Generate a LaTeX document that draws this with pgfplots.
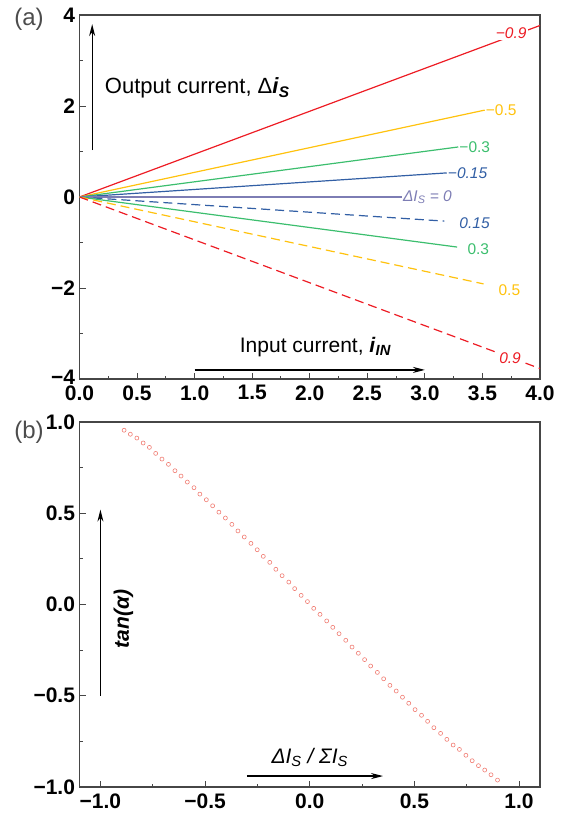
\documentclass[border=0pt]{standalone}
\usepackage{fontspec}
\setmainfont{Liberation Sans}
\usepackage{pgfplots}
\pgfplotsset{compat=1.18}
\usetikzlibrary{arrows.meta}
\definecolor{cred}{RGB}{237,28,36}
\definecolor{cyel}{RGB}{255,194,14}
\definecolor{cgrn}{RGB}{60,190,110}
\definecolor{cblu}{RGB}{50,95,165}
\definecolor{cpur}{RGB}{125,125,180}
\definecolor{cpt}{RGB}{240,125,115}
\definecolor{axgray}{RGB}{70,70,70}
\newcommand{\lbl}{\fontsize{15.5}{15.5}\selectfont}
\pgfplotsset{
  myax/.style={
    scale only axis, width=460.5pt,
    tick align=inside, xtick pos=left, ytick pos=left,
    major tick length=6pt, minor tick length=3.5pt,
    tick style={axgray, line width=1pt},
    axis line style={axgray, line width=1.2pt},
    tick label style={font=\bfseries\fontsize{21}{21}\selectfont},
    xticklabel style={yshift=-3pt},
    yticklabel style={xshift=-1pt},
    minor x tick num=1, minor y tick num=1,
    clip=false,
  }
}
\begin{document}
\begin{tikzpicture}
\path[use as bounding box] (0pt,0pt) rectangle (576pt,-819pt);
\node[font=\fontsize{24}{24}\selectfont, text=black!70] at (29pt,-19pt) {(a)};
\node[font=\fontsize{24}{24}\selectfont, text=black!70] at (29pt,-432pt) {(b)};
% ---------- top axis ----------
\begin{axis}[myax, at={(79.5pt,-379pt)}, anchor=south west, height=364pt,
  xmin=0, xmax=4, ymin=-4, ymax=4,
  xtick={0,0.5,1,1.5,2,2.5,3,3.5,4},
  xticklabels={0.0,0.5,1.0,1.5,2.0,2.5,3.0,3.5,4.0},
  ytick={-4,-2,0,2,4}, yticklabels={\smash{\raisebox{-5pt}{−4}},−2,0,2,4}]
\addplot[cred, line width=1.2pt] coordinates {(0,0) (4,3.77)};
\addplot[cyel, line width=1.2pt] coordinates {(0,0) (3.52,1.91)};
\addplot[cgrn, line width=1.2pt] coordinates {(0,0) (3.29,1.10)};
\addplot[cblu, line width=1.2pt] coordinates {(0,0) (3.19,0.53)};
\addplot[cpur, line width=1.2pt] coordinates {(0,0) (2.80,0)};
\addplot[cblu, line width=1.2pt, dash pattern=on 9pt off 5pt] coordinates {(0,0) (3.17,-0.53)};
\addplot[cgrn, line width=1.2pt] coordinates {(0,0) (3.28,-1.10)};
\addplot[cyel, line width=1.2pt, dash pattern=on 9pt off 5pt] coordinates {(0,0) (3.51,-1.91)};
\addplot[cred, line width=1.2pt, dash pattern=on 9pt off 5pt] coordinates {(0,0) (4,-3.77)};
\node[fill=white, inner sep=1pt, text=cred, font=\lbl\itshape] at (axis cs:3.75,3.60) {−0.9};
\node[anchor=west, inner sep=1pt, text=cyel, font=\lbl] at (axis cs:3.52,1.91) {−0.5};
\node[anchor=west, inner sep=1pt, text=cgrn, font=\lbl] at (axis cs:3.29,1.10) {−0.3};
\node[anchor=west, inner sep=1pt, text=cblu, font=\lbl\itshape] at (axis cs:3.19,0.53) {−0.15};
\node[anchor=west, inner sep=1pt, text=cpur, font=\lbl\itshape] at (axis cs:2.80,0) {ΔI\textsubscript{S} = 0};
\node[anchor=west, inner sep=1pt, text=cblu, font=\lbl\itshape] at (axis cs:3.29,-0.58) {0.15};
\node[anchor=west, inner sep=1pt, text=cgrn, font=\lbl] at (axis cs:3.36,-1.14) {0.3};
\node[anchor=west, inner sep=1pt, text=cyel, font=\lbl] at (axis cs:3.63,-2.05) {0.5};
\node[fill=white, inner sep=1pt, text=cred, font=\lbl\itshape] at (axis cs:3.74,-3.54) {0.9};
\draw[black, line width=1.3pt, -{Stealth[length=12pt,width=6pt]}] (axis cs:0.11,1.03) -- (axis cs:0.11,3.80);
\node[anchor=west, font=\fontsize{22}{22}\selectfont] at (axis cs:0.19,2.40) {Output current, Δ\textbf{\textit{i}}\textsubscript{\textbf{\textit{S}}}};
\draw[black, line width=1.3pt, -{Stealth[length=12pt,width=6pt]}] (axis cs:1.0,-3.80) -- (axis cs:3.0,-3.80);
\node[font=\fontsize{21}{21}\selectfont] at (axis cs:2.05,-3.30) {Input current, \textbf{\textit{i}}\textsubscript{\textbf{\textit{IN}}}};
\end{axis}
% ---------- bottom axis ----------
\begin{axis}[myax, at={(79.5pt,-787pt)}, anchor=south west, height=365pt,
  xmin=-1.1, xmax=1.1, ymin=-1, ymax=1,
  xtick={-1,-0.5,0,0.5,1}, xticklabels={−1.0,−0.5,0.0,0.5,1.0},
  ytick={-1,-0.5,0,0.5,1}, yticklabels={−1.0,−0.5,0.0,0.5,1.0}]
\addplot[only marks, mark=o, mark size=2pt, cpt, mark options={line width=0.6pt}] coordinates {
(-0.887,0.955) (-0.857,0.933) (-0.826,0.912) (-0.796,0.885) (-0.766,0.861)
(-0.736,0.828) (-0.706,0.797) (-0.675,0.768) (-0.644,0.733) (-0.615,0.704)
(-0.585,0.671) (-0.553,0.640) (-0.525,0.605) (-0.494,0.574) (-0.464,0.541)
(-0.434,0.506) (-0.403,0.474) (-0.372,0.439) (-0.343,0.403) (-0.313,0.370)
(-0.281,0.335) (-0.251,0.300) (-0.222,0.264) (-0.191,0.231) (-0.162,0.193)
(-0.132,0.158) (-0.100,0.123) (-0.072,0.087) (-0.041,0.050) (-0.011,0.016)
(0.019,-0.021) (0.049,-0.054) (0.081,-0.090) (0.110,-0.125) (0.140,-0.160)
(0.172,-0.196) (0.202,-0.233) (0.232,-0.267) (0.262,-0.302) (0.291,-0.337)
(0.323,-0.372) (0.353,-0.407) (0.383,-0.443) (0.413,-0.474) (0.443,-0.508)
(0.473,-0.541) (0.503,-0.576) (0.534,-0.607) (0.563,-0.640) (0.593,-0.675)
(0.625,-0.706) (0.655,-0.739) (0.685,-0.770) (0.715,-0.794) (0.746,-0.826)
(0.776,-0.856) (0.806,-0.883) (0.836,-0.907) (0.866,-0.933) (0.897,-0.962)
};
\draw[black, line width=1.3pt, -{Stealth[length=12pt,width=6pt]}] (axis cs:-1.0,-0.50) -- (axis cs:-1.0,0.52);
\node[rotate=90, font=\fontsize{21}{21}\selectfont\bfseries\itshape] at (axis cs:-0.89,-0.08) {tan(α)};
\draw[black, line width=1.3pt, -{Stealth[length=12pt,width=6pt]}] (axis cs:-0.30,-0.94) -- (axis cs:0.35,-0.94);
\node[font=\fontsize{21}{21}\selectfont\itshape] at (axis cs:0.0,-0.84) {ΔI\textsubscript{S} / ΣI\textsubscript{S}};
\end{axis}
\end{tikzpicture}
\end{document}
